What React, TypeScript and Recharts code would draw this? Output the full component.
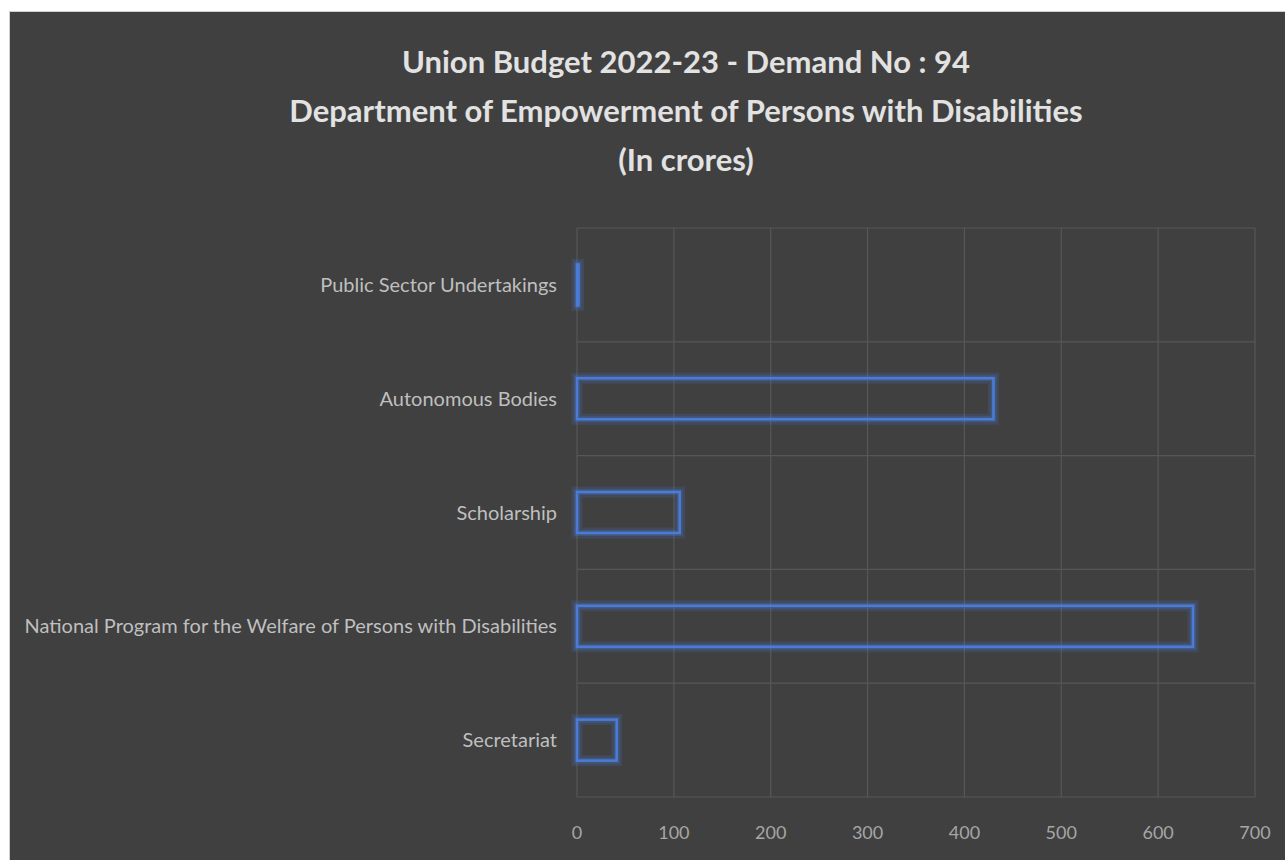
import React from 'react'
import { BarChart, Bar, XAxis, YAxis, CartesianGrid } from 'recharts'

const CATEGORIES = [
  'Public Sector Undertakings',
  'Autonomous Bodies',
  'Scholarship',
  'National Program for the Welfare of Persons with Disabilities',
  'Secretariat',
]
const AMOUNTS = [1, 430, 106, 636, 41]
const X_TICKS = [0, 100, 200, 300, 400, 500, 600, 700]
const TITLE_LINES = [
  'Union Budget 2022-23 - Demand No : 94',
  'Department of Empowerment of Persons with Disabilities',
  '(In crores)',
]

const DATA = CATEGORIES.map((name, i) => ({ name, amount: AMOUNTS[i] }))

const FONT = 'Lato, "Open Sans", sans-serif'
const BG = '#404040'
const GRID = '#575757'
const BLUE = '#4a7bd6'

// outlined bar with a soft blue glow
const glowBar = (props: any) => {
  const { x, y, width, height } = props
  const w = Math.max(Number(width) || 0, 1.5)
  return (
    <g>
      <rect x={x} y={y} width={w} height={height} fill="none" stroke={BLUE} strokeOpacity={0.18} strokeWidth={11} />
      <rect x={x} y={y} width={w} height={height} fill="none" stroke={BLUE} strokeOpacity={0.25} strokeWidth={6} />
      <rect x={x} y={y} width={w} height={height} fill="none" stroke={BLUE} strokeWidth={2.6} />
    </g>
  )
}

export default function App() {
  return (
    <div style={{ position: 'absolute', left: 9, top: 11, width: 1276, height: 849, background: BG, borderTop: '1px solid #cfcfcf', borderLeft: '1px solid #cfcfcf', fontFamily: FONT, overflow: 'hidden' }}>
      <div style={{ position: 'absolute', left: 0, top: 25, width: 1352, textAlign: 'center', color: '#e2e2e2', fontWeight: 700, fontSize: 31, lineHeight: '49px' }}>
        {TITLE_LINES.map((t) => (
          <div key={t}>{t}</div>
        ))}
      </div>
      <div style={{ position: 'absolute', left: 0, top: 0 }}>
        <BarChart
          width={1276}
          height={849}
          data={DATA}
          layout="vertical"
          margin={{ top: 216, right: 31, bottom: 0, left: 0 }}
          barCategoryGap="32%"
        >
          <CartesianGrid
            stroke={GRID}
            strokeWidth={1.2}
            horizontalCoordinatesGenerator={({ offset }: any) =>
              [0, 1, 2, 3, 4, 5].map((i) => offset.top + (offset.height * i) / 5)
            }
          />
          <XAxis
            type="number"
            dataKey="amount"
            domain={[0, 700]}
            ticks={X_TICKS}
            axisLine={false}
            tickLine={false}
            tickSize={0}
            tickMargin={29}
            height={64}
            tick={{ fill: '#a6a6a6', fontSize: 18, fontFamily: FONT }}
          />
          <YAxis
            type="category"
            dataKey="name"
            width={567}
            axisLine={false}
            tickLine={false}
            tickSize={0}
            tickMargin={20}
            interval={0}
            tick={{ fill: '#bfbfbf', fontSize: 20, fontFamily: FONT }}
          />
          <Bar dataKey="amount" fill={BLUE} shape={glowBar} isAnimationActive={false} />
        </BarChart>
      </div>
    </div>
  )
}
